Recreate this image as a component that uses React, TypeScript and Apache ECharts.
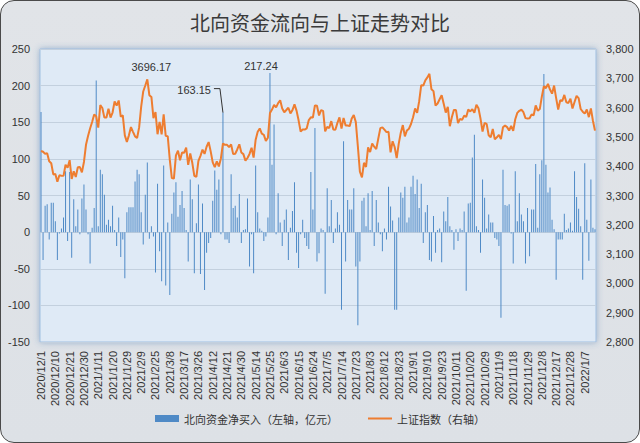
import React, { useEffect, useRef } from "react";
import * as echarts from "echarts";

// trading days of each month shown on the category axis
const monthDays: [string, number[]][] = [
  ["2020/12", [1, 2, 3, 4, 7, 8, 9, 10, 11, 14, 15, 16, 17, 18, 21, 22, 23, 24, 25, 28, 29, 30, 31]],
  ["2021/1", [4, 5, 6, 7, 8, 11, 12, 13, 14, 15, 18, 19, 20, 21, 22, 25, 26, 27, 28, 29]],
  ["2021/2", [1, 2, 3, 4, 5, 8, 9, 10, 18, 19, 22, 23, 24, 25, 26]],
  ["2021/3", [1, 2, 3, 4, 5, 8, 9, 10, 11, 12, 15, 16, 17, 18, 19, 22, 23, 24, 25, 26, 29, 30, 31]],
  ["2021/4", [1, 8, 9, 12, 13, 14, 15, 16, 19, 20, 21, 22, 23, 26, 27, 28, 29, 30]],
  ["2021/5", [6, 7, 10, 11, 12, 13, 14, 17, 18, 19, 20, 21, 24, 25, 26, 27, 28, 31]],
  ["2021/6", [1, 2, 3, 4, 7, 8, 9, 10, 11, 15, 16, 17, 18, 21, 22, 23, 24, 25, 28, 29, 30]],
  ["2021/7", [1, 2, 5, 6, 7, 8, 9, 12, 13, 14, 15, 16, 19, 20, 21, 22, 23, 26, 27, 28, 29, 30]],
  ["2021/8", [2, 3, 4, 5, 6, 9, 10, 11, 12, 13, 16, 17, 18, 19, 20, 23, 24, 25, 26, 27, 30, 31]],
  ["2021/9", [1, 2, 3, 6, 7, 8, 9, 10, 13, 14, 15, 16, 17, 22, 23, 24, 27, 28, 29, 30]],
  ["2021/10", [8, 11, 12, 13, 14, 15, 18, 19, 20, 21, 22, 25, 26, 27, 28, 29]],
  ["2021/11", [1, 2, 3, 4, 5, 8, 9, 10, 11, 12, 15, 16, 17, 18, 19, 22, 23, 24, 25, 26, 29, 30]],
  ["2021/12", [1, 2, 3, 6, 7, 8, 9, 10, 13, 14, 15, 16, 17, 20, 21, 22, 23, 24, 27, 28, 29, 30, 31]],
  ["2022/1", [4, 5, 6, 7, 10, 11, 12, 13, 14]],
];
const categories: string[] = monthDays.flatMap(([m, ds]) => ds.map((d) => `${m}/${d}`));

// 北向资金净买入（亿元）
const netInflow: number[] = [
  164, -38, 36, 38, -10, 40, 40, 15, -38, -2, 5, 20, 83, -12, 82, -35, 45, 8, 31, -3,
  46, 65, 31, -3, -43, 6, 33, 207, 8, 85, 79, 51, 10, 17, 8, 36, 3, -19, 20, -34,
  -10, -63, 27, 34, 34, 34, 69, 85, 79, 27, -17, 51, 95, -9, 8, -6, -55, 66, -26, -67,
  91, -73, 13, -86, 25, 54, 68, 21, 37, 56, 33, 3, -40, 72, 45, -56, 12, 65, -57, 39,
  -79, -28, -15, -8, 43, 84, 58, 72, -3, 163.15, -10, -10, -15, 79, 33, 36, 20, 52, -15, 3,
  4, 46, -47, -3, -56, 91, 27, 5, 2, -12, -6, 20, 217.24, 92, 147, -3, 53, 13, -19, 17,
  31, -38, 6, 29, 68, -28, -49, -3, 17, -8, -19, -23, 82, 31, 142, -40, -29, 5, 3, -84,
  60, 8, 44, -15, 5, 27, 10, -106, 124, -40, 44, 31, 31, 60, -47, -127, -40, 43, 47, 8,
  53, 3, 56, -19, 44, 13, -3, -26, 5, -10, 62, 35, 16, -106, -106, 20, 54, 47, 62, 13,
  20, 62, 77, 52, 72, 33, 66, -15, 27, 37, -38, -40, 22, -28, 3, 5, -41, 28, 15, 48,
  8, 3, -24, 4, -12, 5, 3, 28, -80, 39, 40, 102, 133, 8, 3, -28, 72, 47, 5, 24,
  13, 13, -8, -10, -19, -117, 85, 37, 36, 38, -2, -43, 83, 15, 53, 24, 15, -43, 33, -33,
  31, 31, 93, 6, 79, 98, 216, 92, 54, 61, 17, 4, -65, -10, -10, -10, 25, 3, 5, 13,
  2, 83, 48, 32, 8, -65, 94, 17, -39, 72, 6, 4,
];

// 上证指数
const shIndex: number[] = [
  3451.94, 3449.38, 3442.14, 3444.58, 3416.6, 3410.18, 3371.96, 3373.28, 3347.19, 3369.12,
  3367.23, 3366.98, 3404.87, 3394.9, 3420.57, 3356.78, 3382.32, 3363.11, 3396.56, 3397.29,
  3379.04, 3414.45, 3473.07,
  3502.96, 3528.68, 3550.88, 3576.2, 3570.11, 3531.5, 3608.34, 3598.65, 3565.9, 3566.38,
  3596.22, 3566.12, 3583.09, 3621.26, 3606.75, 3624.24, 3569.43, 3573.34, 3505.18, 3483.07,
  3505.31, 3533.68, 3517.31, 3501.86, 3496.33, 3532.44, 3603.49, 3655.09, 3675.36, 3696.17,
  3642.44, 3636.36, 3564.08, 3585.05, 3509.08,
  3551.4, 3508.59, 3576.9, 3503.49, 3501.99, 3421.41, 3359.29, 3357.74, 3436.83, 3453.08,
  3419.95, 3446.73, 3445.55, 3463.07, 3404.66, 3443.44, 3411.51, 3367.06, 3363.59, 3418.33,
  3435.31, 3456.68, 3441.91,
  3466.33, 3482.48, 3450.68, 3412.95, 3396.47, 3416.55, 3398.99, 3426.62, 3477.55, 3472.94,
  3472.93, 3465.11, 3474.17, 3441.17, 3442.61, 3457.07, 3474.9, 3446.86,
  3441.28, 3418.87, 3427.99, 3441.85, 3462.75, 3429.54, 3490.38, 3517.62, 3529.01, 3510.96,
  3506.94, 3486.56, 3497.28, 3581.34, 3593.36, 3608.85, 3600.78, 3615.48,
  3624.71, 3597.14, 3584.22, 3591.84, 3599.54, 3580.11, 3591.4, 3610.86, 3589.75, 3556.56,
  3518.33, 3525.1, 3525.1, 3529.18, 3557.41, 3566.65, 3566.22, 3607.56, 3606.37, 3573.18, 3591.2,
  3588.78, 3518.76, 3534.32, 3530.26, 3553.72, 3525.5, 3524.09, 3547.84, 3566.47, 3528.5,
  3564.59, 3539.3, 3539.12, 3536.79, 3562.7, 3574.73, 3550.4, 3467.44, 3381.18, 3361.59,
  3411.72, 3397.36,
  3464.29, 3447.99, 3477.22, 3466.56, 3458.23, 3494.63, 3529.93, 3532.62, 3524.74, 3516.3,
  3517.34, 3446.98, 3485.29, 3465.55, 3427.33, 3477.13, 3514.47, 3540.38, 3501.66, 3522.16,
  3528.15, 3543.94,
  3567.1, 3597.04, 3581.73, 3621.86, 3676.59, 3675.19, 3693.13, 3703.11, 3715.37, 3662.6,
  3656.22, 3607.09, 3613.97, 3628.49, 3642.22, 3613.07, 3582.83, 3602.22, 3536.29, 3568.17,
  3592.17, 3591.71, 3546.94, 3561.76, 3558.28, 3572.37, 3568.14, 3593.15, 3587.0, 3594.78,
  3582.6, 3609.86, 3597.64, 3562.31, 3518.42, 3547.34,
  3544.48, 3505.63, 3498.54, 3526.87, 3491.57, 3498.63, 3507.0, 3492.46, 3532.79, 3539.1,
  3533.3, 3521.79, 3537.37, 3520.71, 3560.37, 3582.08, 3589.09, 3592.7, 3584.18, 3564.09,
  3562.7, 3563.89,
  3576.89, 3573.84, 3607.43, 3589.31, 3595.09, 3637.57, 3673.04, 3666.35, 3681.08, 3661.53,
  3647.63, 3675.02, 3632.36, 3593.6, 3625.13, 3622.62, 3643.34, 3618.05, 3615.97, 3630.11,
  3597.0, 3619.19, 3639.78,
  3632.33, 3595.18, 3586.08, 3579.54, 3593.52, 3567.44, 3597.43, 3555.06, 3521.26,
];

const annotatedIndexValue = 3696.17;
const annotatedFlowTop = 217.24;
const annotatedFlowSide = 163.15;

const seriesNames = ["北向资金净买入（左轴，亿元）", "上证指数（右轴）"];
const title = "北向资金流向与上证走势对比";

const latin = "Liberation Sans, Arial, sans-serif";
const cjk = "Noto Sans CJK SC, sans-serif";

// thin horizontal stroke inside a 24x7 box (tiny corner dots fix the box size)
const lineIcon = "path://M0,0h0.01v0.01H0zM0,2.6h24v1.8H0zM23.99,6.99h0.01v0.01h-0.01z";

export default function App() {
  const ref = useRef<HTMLDivElement>(null);

  useEffect(() => {
    document.body.style.margin = "0";
    if (!ref.current) return;
    const chart = echarts.init(ref.current, undefined, { renderer: "svg" });

    const peakIdx = shIndex.indexOf(annotatedIndexValue);
    const topIdx = netInflow.indexOf(annotatedFlowTop);
    const sideIdx = netInflow.indexOf(annotatedFlowSide);

    const labelStyle = { color: "#333", fontSize: 11, fontFamily: latin };

    chart.setOption({
      animation: false,
      backgroundColor: "transparent",
      title: {
        text: title,
        left: "center",
        top: 7,
        textStyle: { fontSize: 20, fontWeight: "normal", color: "#3a3a3a", fontFamily: cjk },
      },
      legend: {
        bottom: 14,
        left: "center",
        itemWidth: 24,
        itemHeight: 7,
        itemGap: 30,
        textStyle: { fontSize: 11, color: "#333", fontFamily: cjk },
        data: [
          { name: seriesNames[0], icon: "rect" },
          { name: seriesNames[1], icon: lineIcon },
        ],
      },
      grid: {
        left: 40,
        right: 44,
        top: 49,
        bottom: 101,
        show: true,
        backgroundColor: "#dfeaf6",
        borderColor: "#9fbfe0",
        borderWidth: 1,
        shadowBlur: 6,
        shadowColor: "rgba(60,110,170,0.45)",
      },
      xAxis: {
        type: "category",
        data: categories,
        boundaryGap: true,
        axisLine: { show: false },
        axisTick: { show: false },
        axisLabel: {
          interval: 6,
          rotate: 90,
          margin: 9,
          fontSize: 11,
          color: "#333",
          fontFamily: latin,
        },
      },
      yAxis: [
        {
          type: "value",
          min: -150,
          max: 250,
          interval: 50,
          axisLine: { show: false },
          axisTick: { show: false },
          axisLabel: { fontSize: 11, color: "#333", fontFamily: latin, margin: 10 },
          splitLine: { lineStyle: { color: "#c3d0de", width: 1 } },
        },
        {
          type: "value",
          min: 2800,
          max: 3800,
          interval: 100,
          position: "right",
          axisLine: { show: false },
          axisTick: { show: false },
          splitLine: { show: false },
          axisLabel: {
            fontSize: 11,
            color: "#333",
            fontFamily: latin,
            margin: 10,
            formatter: (v: number) => v.toLocaleString("en-US"),
          },
        },
      ],
      series: [
        {
          name: seriesNames[0],
          type: "bar",
          yAxisIndex: 0,
          barWidth: 1,
          itemStyle: { color: "#4f8ac6" },
          data: netInflow.map((v, i) =>
            i === topIdx
              ? {
                  value: v,
                  label: { show: true, position: "top", distance: 1, offset: [-9, 0], ...labelStyle },
                }
              : v
          ),
        },
        {
          name: seriesNames[1],
          type: "line",
          yAxisIndex: 1,
          symbol: "none",
          lineStyle: { color: "#ee7d30", width: 2 },
          itemStyle: { color: "#ee7d30" },
          data: shIndex,
          markPoint: {
            symbol: "circle",
            symbolSize: 0,
            silent: true,
            label: { show: true, position: "top", distance: 7, offset: [4, 0], formatter: "{c}", ...labelStyle },
            data: [{ coord: [peakIdx, annotatedIndexValue], value: annotatedIndexValue }],
          },
        },
      ],
    });

    const [bx, by] = chart.convertToPixel({ xAxisIndex: 0, yAxisIndex: 0 }, [sideIdx, annotatedFlowSide]) as number[];
    chart.setOption({
      graphic: [
        {
          type: "polyline",
          shape: { points: [[bx - 9, by - 24], [bx - 3, by - 24], [bx, by]] },
          style: { stroke: "#333", lineWidth: 1, fill: "none" },
          z: 10,
        },
        {
          type: "text",
          x: bx - 12,
          y: by - 23,
          style: {
            text: String(annotatedFlowSide),
            align: "right",
            verticalAlign: "middle",
            fill: "#333",
            fontSize: 11,
            fontFamily: latin,
          },
          z: 10,
        },
      ],
    });

    return () => chart.dispose();
  }, []);

  return (
    <div style={{ position: "fixed", left: 0, top: 0, width: 640, height: 443, background: "#fff" }}>
      <div
        style={{
          position: "absolute",
          left: 0,
          top: 0,
          width: 640,
          height: 443,
          boxSizing: "border-box",
          border: "1px solid #4a4a4a",
          borderRadius: 14,
          background: "linear-gradient(#e1e4e8, #dde1e6)",
        }}
      />
      <div ref={ref} style={{ position: "absolute", left: 0, top: 0, width: 640, height: 443 }} />
    </div>
  );
}
